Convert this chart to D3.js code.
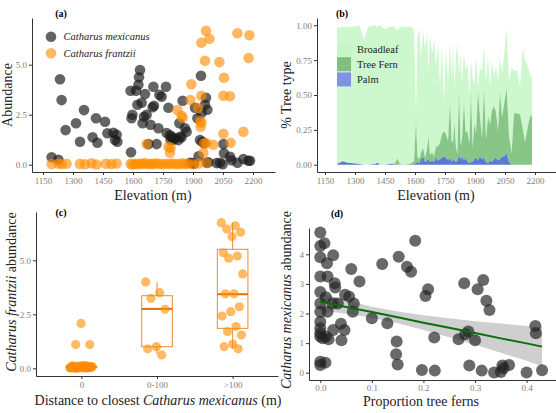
<!DOCTYPE html>
<html>
<head>
<meta charset="utf-8">
<script src="https://cdn.jsdelivr.net/npm/d3@7"></script>
<style>
  body { margin: 0; background: #fff; }
  svg { font-family: "Liberation Serif", serif; }
  .axis path, .axis line { stroke: #333; }
  .axis text { fill: #808080; font-size: 9px; font-family: "Liberation Serif", serif; }
</style>
</head>
<body>
<div id="chart"></div>
<script>
// (a) abundance vs elevation: [elevation, abundance]
const mexicanusPoints = [
  [1193,0.37],[1227,0.25],[1235,4.27],[1243,3.23],[1263,1.73],[1315,2.07],[1335,1.15],[1355,2.73],
  [1398,1.37],[1415,2.32],[1422,1.10],[1460,2.15],[1472,1.57],[1502,1.60],[1510,1.23],[1518,1.50],
  [1522,1.15],[1588,3.70],[1590,0.62],[1593,2.32],[1597,2.50],[1615,3.70],[1622,3.00],[1627,4.00],
  [1630,4.37],[1635,4.73],[1643,3.10],[1648,2.07],[1655,2.40],[1660,3.53],[1668,2.50],[1677,1.03],
  [1688,2.00],[1698,2.87],[1702,3.90],[1705,2.95],[1718,1.03],[1727,1.82],[1732,3.50],[1743,3.40],
  [1765,3.90],[1768,1.58],[1777,2.85],[1785,1.47],[1788,1.23],[1793,1.40],[1802,1.25],[1810,1.32],
  [1827,1.23],[1832,2.07],[1835,1.40],[1843,1.37],[1848,3.20],[1860,1.82],[1868,1.65],[1885,0.10],
  [1898,0.08],[1905,0.05],[1910,2.85],[1922,2.32],[1928,0.42],[1935,1.23],[1940,4.45],[1943,2.60],
  [1947,1.15],[1955,1.07],[1960,3.00],[1965,3.35],[1968,0.10],[1972,2.75],[1977,0.12],[2018,0.08],
  [2035,0.10],[2048,0.02],[2052,1.03],[2055,0.57],[2085,0.40],[2093,0.22],[2122,0.10],[2152,0.28],
  [2177,0.20],[2185,0.20]
];
const frantziiPoints = [
  [1193,0.03],[1227,0.06],[1243,0.02],[1268,0.05],[1335,0.04],[1360,0.02],[1393,0.07],[1418,0.01],
  [1465,0.05],[1493,0.03],[1518,0.06],[1588,0.04],[1598,0.01],[1610,0.05],[1622,0.02],[1635,0.06],
  [1648,0.03],[1660,0.08],[1677,0.02],[1688,0.05],[1702,0.03],[1715,0.07],[1732,0.04],[1748,0.02],
  [1765,0.05],[1782,0.03],[1798,0.06],[1815,0.02],[1832,0.04],[1848,0.07],[1860,0.03],[1877,0.05],
  [1902,0.02],[1927,0.06],[1952,0.60],[1968,0.08],
  [1668,1.03],[1777,0.90],[1785,0.60],[1788,0.85],[1822,2.73],[1843,2.45],[1848,2.35],[1887,3.23],
  [1892,4.02],[1925,2.85],[1937,2.20],[1938,1.90],[1942,2.10],[1942,3.45],[1942,6.10],[1955,1.07],
  [1960,5.20],[1965,6.70],[1968,1.07],[1982,6.30],[2002,1.00],[2032,5.13],[2052,1.55],[2055,4.35],
  [2052,3.45],[2085,3.42],[2088,1.10],[2122,6.57],[2152,1.65],[2182,6.47],[2178,5.33]
];
const speciesNames = ["Catharus mexicanus", "Catharus frantzii"];
const elevationTicks = [1150, 1300, 1450, 1600, 1750, 1900, 2050, 2200];

// (b) tree composition along elevation (proportions)
const treeElevation = [1210,1220,1240,1260,1290,1320,1347,1365,1400,1412,1425,1450,1470,1490,1500,1512,1525,1550,1580,1595,
  1605,1612,1622,1630,1641,1650,1660,1667,1675,1685,1695,1705,1715,1725,1735,1745,1755,1765,1775,1783,
  1790,1797,1805,1812,1820,1828,1835,1845,1853,1862,1872,1880,1888,1897,1905,1915,1925,1935,1945,1955,
  1965,1975,1985,1995,2005,2015,2025,2035,2045,2058,2070,2083,2095,2110,2125,2140,2150,2165,2178,2185];
const treeTotal = [0.99,0.98,0.99,0.99,0.99,1.00,0.90,0.99,1.00,0.99,1.00,0.97,0.99,0.99,0.98,0.96,0.99,0.99,0.99,0.97,
  0.35,0.92,0.97,0.77,0.96,0.82,0.95,0.66,0.94,0.79,0.90,0.70,0.87,0.56,0.85,0.46,0.82,0.60,0.88,0.62,
  0.85,0.54,0.78,0.87,0.65,0.79,0.58,0.80,0.68,0.73,0.50,0.75,0.62,0.58,0.78,0.55,0.70,0.67,0.85,0.60,
  0.78,0.55,0.75,0.64,0.70,0.60,0.77,0.66,0.78,0.98,0.60,0.70,0.67,0.68,0.56,0.84,0.75,0.70,0.63,0.63];
const treeFern = [0.01,0.005,0,0,0,0,0,0,0,0,0,0,0,0,0.01,0.045,0.005,0,0.01,0.02,
  0.30,0.04,0.03,0.05,0.06,0.03,0.08,0.165,0.05,0.06,0.04,0.08,0.10,0.12,0.17,0.18,0.17,0.14,0.40,0.15,
  0.12,0.28,0.10,0.05,0.46,0.10,0.12,0.42,0.18,0.22,0.14,0.50,0.10,0.26,0.18,0.50,0.28,0.15,0.50,0.16,
  0.34,0.26,0.37,0.38,0.33,0.21,0.49,0.28,0.37,0.47,0.19,0.08,0.37,0.37,0.36,0.25,0.165,0.28,0.36,0.34];
const treePalm = [0,0.01,0.025,0.015,0.01,0.005,0,0,0.005,0.015,0,0,0.005,0.008,0,0,0,0,0,0.005,
  0.01,0.02,0.01,0.04,0.06,0.02,0.03,0.04,0.02,0.03,0.02,0.05,0.03,0.04,0.05,0.06,0.05,0.03,0.05,0.02,
  0.04,0.03,0.02,0.03,0.07,0.04,0.06,0.03,0.05,0.02,0.01,0.02,0.02,0.04,0.05,0.03,0.06,0.04,0.05,0.02,
  0.01,0.03,0.02,0.04,0.05,0.03,0.04,0.06,0.06,0.08,0.02,0,0,0,0,0,0,0,0,0];
const treeTypes = ["Broadleaf", "Tree Fern", "Palm"];

// (c) frantzii abundance by distance class
const distanceClasses = ["0", "0-100", ">100"];
const frantziiByClass = [
  [0.02,0.05,0.08,0.03,0.06,0.10,0.01,0.04,0.07,0.12,0.02,0.05,0.09,0.03,0.06,0.00,0.04,0.08,0.11,0.02,
   0.05,0.07,0.03,0.06,0.09,0.01,0.04,0.13,0.02,0.05,0.08,0.03,0.06,0.10,0.04,0.07,1.10,1.10,2.08],
  [4.00,3.50,3.24,2.73,1.00,0.90,0.62],
  [6.74,6.60,6.45,6.30,6.10,5.35,5.20,5.10,4.37,3.45,3.45,2.85,2.62,2.42,1.93,1.70,1.54,1.12,1.00,0.90]
];
const boxLower = [0.00, 0.66, 0.90];
const boxQ1 = [0.03, 1.00, 1.85];
const boxMedian = [0.06, 2.75, 3.43];
const boxQ3 = [0.09, 3.36, 5.51];
const boxUpper = [0.15, 4.00, 6.74];

// (d) mexicanus abundance vs proportion of tree ferns: [proportion, abundance]
const fernPoints = [
  [0,4.74],[0,4.28],[0.008,4.37],[0,3.90],[0.013,3.70],[0.025,3.97],[0,3.25],[0.014,3.25],[0,2.73],
  [0.028,3.02],[0.029,2.88],[0.011,2.55],[0,2.34],[0.014,2.06],[0,2.06],[0.024,2.34],[0.034,2.34],
  [0.048,2.63],[0.056,2.57],[0.065,2.34],[0.063,2.06],[0.060,3.50],[0.076,3.08],[0,1.72],[0,1.50],
  [0,1.22],[0.005,1.16],[0.011,1.22],[0,1.33],[0.016,1.13],[0.025,1.44],[0.040,1.65],[0.047,1.44],
  [0.041,1.10],[0,0.37],[0,0.26],[0.010,0.34],[0.100,1.84],[0.130,1.67],[0.120,3.67],[0.152,3.92],
  [0.148,1.05],[0.147,0.62],[0.150,0.28],[0.168,3.58],[0.176,3.41],[0.184,4.46],[0.204,2.59],[0.209,2.82],
  [0.197,0.09],[0.221,1.19],[0.222,0.07],[0.268,1.13],[0.279,3.02],[0.281,1.30],[0.287,1.39],[0.289,0.24],
  [0.300,1.10],[0.305,2.82],[0.313,0.07],[0.316,3.13],[0.322,2.43],[0.328,2.12],[0.337,0.01],[0.350,0.02],
  [0.353,0.24],[0.355,0.15],[0.366,0.26],[0.400,0.01],[0.417,1.58],[0.418,1.33],[0.430,0.08]
];
const fitX = [0, 0.05, 0.10, 0.15, 0.20, 0.25, 0.30, 0.35, 0.40, 0.43];
const fitY = [2.40, 2.22, 2.05, 1.87, 1.69, 1.52, 1.34, 1.16, 0.99, 0.88];
const fitLow = [2.10, 1.99, 1.86, 1.67, 1.44, 1.20, 0.94, 0.67, 0.40, 0.22];
const fitHigh = [2.70, 2.45, 2.23, 2.07, 1.94, 1.84, 1.74, 1.66, 1.58, 1.54];

const W = 556, H = 413;
const svg = d3.select("#chart").append("svg").attr("width", W).attr("height", H);

const styleAxis = g => {
    g.attr("class", "axis");
    g.select(".domain").attr("stroke-width", 1);
};

const addTitle = (x, y, txt) => svg.append("text")
    .attr("x", x).attr("y", y).attr("text-anchor", "middle")
    .style("font-size", "10px").style("font-weight", "bold").text(txt);

// Axis titles may mix upright and italic parts.
const addLabel = (x, y, parts, rotate) => {
    const t = svg.append("text")
        .attr("transform", `translate(${x},${y})` + (rotate ? " rotate(-90)" : ""))
        .attr("text-anchor", "middle")
        .style("font-size", "14px")
        .style("fill", "#222");
    parts.forEach(p => t.append("tspan").style("font-style", p[1] ? "italic" : "normal").text(p[0]));
};

// ---------- (a)
{
    const x = d3.scaleLinear().domain([1095, 2310]).range([32, 275]);
    const y = d3.scaleLinear().domain([-0.365, 7.335]).range([172, 18]);
    svg.append("g").attr("transform", "translate(0,172)")
        .call(d3.axisBottom(x).tickValues(elevationTicks).tickSize(3).tickPadding(3).tickSizeOuter(0).tickFormat(d3.format("d")))
        .call(styleAxis);
    svg.append("g").attr("transform", "translate(32,0)")
        .call(d3.axisLeft(y).tickValues([0, 2.5, 5]).tickSize(3).tickPadding(2).tickSizeOuter(0).tickFormat(d3.format(".1f")))
        .call(styleAxis);

    svg.append("g").selectAll("circle").data(mexicanusPoints).join("circle")
        .attr("cx", d => x(d[0])).attr("cy", d => y(d[1])).attr("r", 5.3)
        .attr("fill", "#1a1a1a").attr("fill-opacity", 0.68);
    svg.append("g").selectAll("circle").data(frantziiPoints).join("circle")
        .attr("cx", d => x(d[0])).attr("cy", d => y(d[1])).attr("r", 5.3)
        .attr("fill", "#ff8c00").attr("fill-opacity", 0.62);

    const leg = svg.append("g");
    speciesNames.forEach((s, i) => {
        leg.append("circle").attr("cx", 51).attr("cy", 36.7 + i * 16.6).attr("r", 5.3)
            .attr("fill", i ? "#ff8c00" : "#1a1a1a").attr("fill-opacity", i ? 0.62 : 0.68);
        leg.append("text").attr("x", 63.5).attr("y", 40.3 + i * 16.6)
            .style("font-size", "10.5px").style("font-style", "italic").style("fill", "#222").text(s);
    });
    addTitle(61, 17, "(a)");
    addLabel(12, 95, [["Abundance", false]], true);
    addLabel(153, 200, [["Elevation (m)", false]], false);
}

// ---------- (b)
{
    const x = d3.scaleLinear().domain([1110, 2305]).range([317, 556]);
    const y = d3.scaleLinear().domain([-0.052, 1.052]).range([172, 18]);
    const rows = treeElevation.map((e, i) => ({
        elev: e,
        palm: treePalm[i],
        fern: treeFern[i],
        broad: Math.max(0, treeTotal[i] - treeFern[i] - treePalm[i])
    }));
    const stack = d3.stack().keys(["palm", "fern", "broad"])(rows);
    const fills = { palm: "#5b78d6", fern: "#88c688", broad: "#cdf7cd" };
    const area = d3.area().x(d => x(d.data.elev)).y0(d => y(d[0])).y1(d => y(d[1]));
    svg.append("g").selectAll("path").data(stack.slice().reverse()).join("path")
        .attr("d", area).attr("fill", d => fills[d.key]);

    svg.append("g").attr("transform", "translate(0,172)")
        .call(d3.axisBottom(x).tickValues(elevationTicks).tickSize(3).tickPadding(3).tickSizeOuter(0).tickFormat(d3.format("d")))
        .call(styleAxis);
    svg.append("g").attr("transform", "translate(317,0)")
        .call(d3.axisLeft(y).tickValues([0, 0.25, 0.5, 0.75, 1]).tickSize(3).tickPadding(2).tickSizeOuter(0).tickFormat(d3.format(".2f")))
        .call(styleAxis);

    const keyFills = ["#c6f5c6", "#7fbf7f", "#8093e3"];
    treeTypes.forEach((t, i) => {
        svg.append("rect").attr("x", 337).attr("y", 42 + i * 15.2).attr("width", 14).attr("height", 14)
            .attr("fill", keyFills[i]);
        svg.append("text").attr("x", 357).attr("y", 52.5 + i * 15.2)
            .style("font-size", "10.5px").style("fill", "#222").text(t);
    });
    addTitle(342, 17, "(b)");
    addLabel(291, 95, [["% Tree type", false]], true);
    addLabel(436, 200, [["Elevation (m)", false]], false);
}

// ---------- (c)
{
    const x = d3.scalePoint().domain(distanceClasses).range([36, 278]).padding(0.6);
    const y = d3.scaleLinear().domain([-0.356, 7.236]).range([376, 212]);
    const half = 15.3;
    const orange = "#ee8a2a";

    const boxes = svg.append("g");
    distanceClasses.forEach((c, i) => {
        const cx = x(c);
        boxes.append("line").attr("x1", cx).attr("x2", cx).attr("y1", y(boxLower[i])).attr("y2", y(boxQ1[i]))
            .attr("stroke", orange).attr("stroke-width", 1);
        boxes.append("line").attr("x1", cx).attr("x2", cx).attr("y1", y(boxQ3[i])).attr("y2", y(boxUpper[i]))
            .attr("stroke", orange).attr("stroke-width", 1);
        boxes.append("rect").attr("x", cx - half).attr("width", 2 * half)
            .attr("y", y(boxQ3[i])).attr("height", y(boxQ1[i]) - y(boxQ3[i]))
            .attr("fill", "none").attr("stroke", orange).attr("stroke-width", 1);
        boxes.append("line").attr("x1", cx - half).attr("x2", cx + half).attr("y1", y(boxMedian[i])).attr("y2", y(boxMedian[i]))
            .attr("stroke", "#e07000").attr("stroke-width", 2);
    });

    // deterministic jitter around each class centre
    const pts = [];
    frantziiByClass.forEach((vals, i) => vals.forEach((v, j) => {
        const jit = (((j * 0.6180339) % 1) - 0.5) * 0.3;
        pts.push({ cls: distanceClasses[i], v, jit });
    }));
    svg.append("g").selectAll("circle").data(pts).join("circle")
        .attr("cx", d => x(d.cls) + d.jit * x.step())
        .attr("cy", d => y(d.v)).attr("r", 4.6)
        .attr("fill", "#ff8c00").attr("fill-opacity", 0.6);

    svg.append("g").attr("transform", "translate(0,376)")
        .call(d3.axisBottom(x).tickSize(3).tickPadding(3).tickSizeOuter(0))
        .call(styleAxis);
    svg.append("g").attr("transform", "translate(36,0)")
        .call(d3.axisLeft(y).tickValues([0, 2.5, 5]).tickSize(3).tickPadding(2).tickSizeOuter(0).tickFormat(d3.format(".1f")))
        .call(styleAxis);
    addTitle(61, 216, "(c)");
    addLabel(16, 292, [["Catharus frantzii", true], [" abundance", false]], true);
    addLabel(158, 405, [["Distance to closest ", false], ["Catharus mexicanus", true], [" (m)", false]], false);
}

// ---------- (d)
{
    const x = d3.scaleLinear().domain([-0.0219, 0.457]).range([309, 556]);
    const y = d3.scaleLinear().domain([-0.247, 4.889]).range([380, 228]);
    const band = d3.area().x((d, i) => x(fitX[i])).y0((d, i) => y(fitLow[i])).y1((d, i) => y(fitHigh[i]));
    svg.append("path").datum(fitX).attr("d", band).attr("fill", "#cfcfcf");

    svg.append("g").selectAll("circle").data(fernPoints).join("circle")
        .attr("cx", d => x(d[0])).attr("cy", d => y(d[1])).attr("r", 6)
        .attr("fill", "#222").attr("fill-opacity", 0.68);

    const line = d3.line().x((d, i) => x(fitX[i])).y((d, i) => y(fitY[i]));
    svg.append("path").datum(fitX).attr("d", line)
        .attr("fill", "none").attr("stroke", "#0a6e0a").attr("stroke-width", 2);

    svg.append("g").attr("transform", "translate(0,380)")
        .call(d3.axisBottom(x).tickValues([0, 0.1, 0.2, 0.3, 0.4]).tickSize(3).tickPadding(2).tickSizeOuter(0).tickFormat(d3.format(".1f")))
        .call(styleAxis);
    svg.append("g").attr("transform", "translate(309,0)")
        .call(d3.axisLeft(y).tickValues([0, 1, 2, 3, 4]).tickSize(3).tickPadding(2).tickSizeOuter(0).tickFormat(d3.format("d")))
        .call(styleAxis);
    addTitle(337, 217, "(d)");
    addLabel(291, 300, [["Catharus mexicanus", true], [" abundance", false]], true);
    addLabel(421, 406, [["Proportion tree ferns", false]], false);
}
</script>
</body>
</html>
